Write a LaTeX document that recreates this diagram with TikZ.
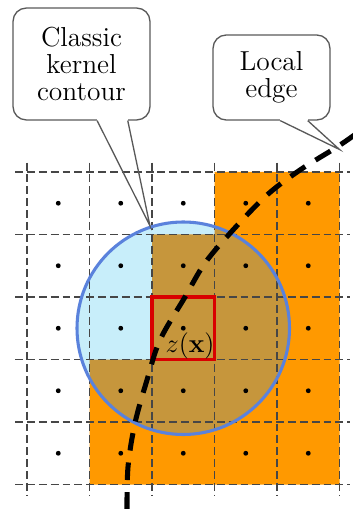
\documentclass[tikz,border=0pt]{standalone}
\usepackage{amsmath,amssymb,bm}
\usepackage{tikz}
\usetikzlibrary{calc,positioning}
\definecolor{edgeor}{RGB}{255,153,  0}
\definecolor{kernbl}{RGB}{200,238,250}
\definecolor{mixbr} {RGB}{198,150, 60}
\definecolor{ringbl}{RGB}{ 90,130,220}
\definecolor{gridgr}{RGB}{ 70, 70, 70}
\tikzset{
  gridln/.style={draw=gridgr,line width=0.7pt,dash pattern=on 3.6pt off 1.8pt},
  note/.style  ={rectangle,draw=black!65,rounded corners=6pt,line width=0.6pt,
                 align=center,font=\fontsize{12.5}{12.3}\selectfont,
                 minimum width=2.19cm,minimum height=1.79cm},
  pin/.style   ={draw=black!65,line width=0.6pt},
  edgeln/.style={line width=2.3pt,dash pattern=on 8pt off 5.5pt},
  pix/.style   ={circle,fill=black,inner sep=0pt,minimum size=2.2pt},
  ring/.style  ={circle,draw=ringbl,line width=1.4pt,minimum size=3.4cm,inner sep=0pt},
  cellbox/.style={rectangle,draw=red!85!black,line width=1.6pt,minimum size=1cm,inner sep=0pt},
}
\newcommand{\orregion}{(3,0) -| (5,-5) -| (1,-3) -| (2,-1) -| (3,0) -- cycle}

\begin{document}
\begin{tikzpicture}
  \useasboundingbox (-0.432,-5.392) rectangle (5.2,2.752);
  \fill[edgeor] \orregion;
  \fill[kernbl] (2.5,-2.5) circle (1.7);
  \begin{scope}
    \clip (2.5,-2.5) circle (1.7);
    \fill[mixbr] \orregion;
  \end{scope}
  \foreach \i in {0,...,5}{
    \draw[gridln] (-0.19,-\i) -- (5.17,-\i);
    \draw[gridln] (\i,0.15) -- (\i,-5.17);
  }
  \foreach \i in {0,...,4}
    \foreach \j in {0,...,4}
      \node[pix] (p\i\j) at (\i+0.5,-\j-0.5) {};
  \node[ring]    (kern) at (2.5,-2.5) {};
  \node[cellbox] (cell) at (2.5,-2.5) {};
  \node[anchor=south east,inner sep=0.6pt,font=\fontsize{12}{12}\selectfont]
                 (zx) at (cell.south east) {$z(\mathbf{x})$};
  \draw[edgeln] plot[smooth,tension=0.55] coordinates {(5.25,0.6) (4.96,0.4)
    (4.368,0.032) (3.84,-0.368) (3.296,-0.928) (2.848,-1.456) (2.528,-2.0)
    (2.128,-2.688) (1.92,-3.328) (1.728,-4.016) (1.616,-4.72) (1.6,-5.45)};
  \coordinate (etip) at (5.0,0.36);

  \node[note] (classic) at (0.872,1.728) {Classic\\kernel\\contour};
  \node[note,minimum width=1.87cm,minimum height=1.36cm]
              (local) at (3.912,1.512) {Local\\edge};
  \draw[white,line width=1.4pt] ([xshift=0.25cm]classic.south) -- ([xshift=0.74cm]classic.south);
  \draw[pin] ([xshift=0.25cm]classic.south) -- (kern.108) -- ([xshift=0.74cm]classic.south);
  \draw[white,line width=1.4pt] ([xshift=0.14cm]local.south) -- ([xshift=0.58cm]local.south);
  \draw[pin] ([xshift=0.14cm]local.south) -- (etip) -- ([xshift=0.58cm]local.south);
\end{tikzpicture}
\end{document}
